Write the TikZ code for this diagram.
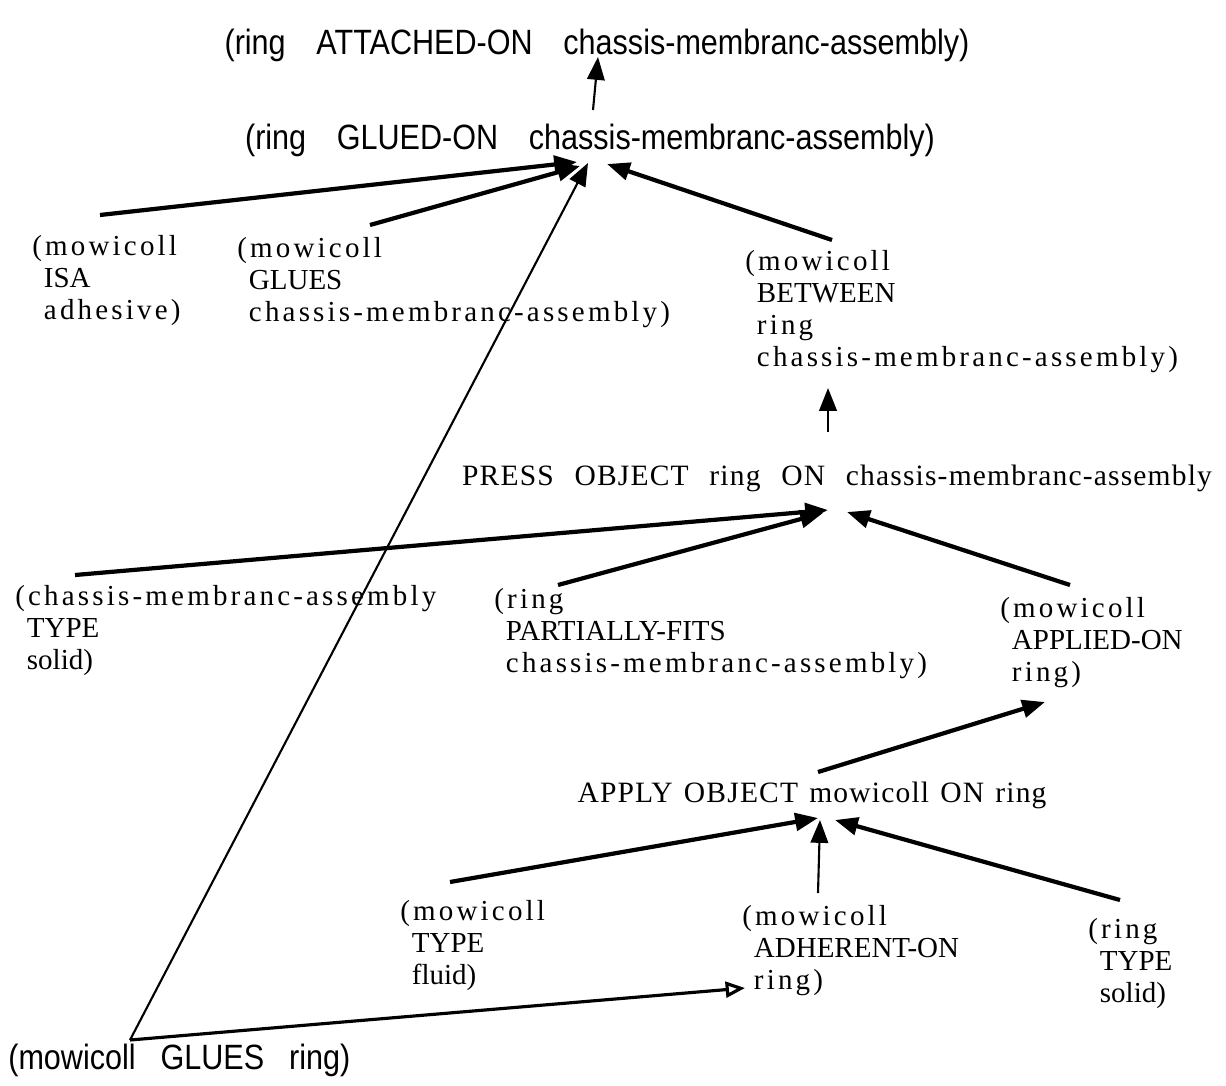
\documentclass[tikz,border=0pt]{standalone}
\usepackage{fontspec}
\setmainfont{Liberation Serif}
\newfontfamily\narrowsans{Liberation Sans}[FakeStretch=0.87]
\usetikzlibrary{arrows.meta}
\newcommand{\spaced}[1]{{\addfontfeature{LetterSpace=11}#1}}
\newcommand{\nl}{\\\hspace*{0.4em}}

\begin{document}
\begin{tikzpicture}[x=0.02cm,y=-0.02cm,
    head/.style={inner sep=0pt,font=\narrowsans\fontsize{20}{24}\selectfont},
    lbl/.style={inner sep=0pt,font=\fontsize{16.8}{20}\selectfont\addfontfeature{LetterSpace=4}},
    stack/.style={inner sep=0pt,align=left,anchor=north west,font=\fontsize{16.5}{18.2}\selectfont},
    link/.style={-{Triangle[length=13pt,width=10pt]},line width=2.4pt},
    slimlink/.style={-{Triangle[length=13pt,width=10pt]},line width=1.2pt}]
    \useasboundingbox (0,0) rectangle (1226,1085);
    \node[head] (attached) at (597,45) {\makebox[14.9cm][s]{(ring ATTACHED-ON chassis-membranc-assembly)}};
    \node[head] (glued) at (590,140) {\makebox[13.8cm][s]{(ring GLUED-ON chassis-membranc-assembly)}};
    \node[stack] (isa) at (32,235) {\spaced{(mowicoll}\nl ISA\nl\spaced{adhesive)}};
    \node[stack] (gluesn) at (237,237) {\spaced{(mowicoll}\nl GLUES\nl\spaced{chassis-membranc-assembly)}};
    \node[stack] (between) at (745,250) {\spaced{(mowicoll}\nl BETWEEN\nl\spaced{ring}\nl\spaced{chassis-membranc-assembly)}};
    \node[lbl] (press) at (837,478) {\makebox[15cm][s]{PRESS OBJECT ring ON chassis-membranc-assembly}};
    \node[stack] (cma) at (15,585) {\spaced{(chassis-membranc-assembly}\nl TYPE\nl solid)};
    \node[stack] (pfits) at (494,588) {\spaced{(ring}\nl PARTIALLY-FITS\nl\spaced{chassis-membranc-assembly)}};
    \node[stack] (appliedon) at (1000,597) {\spaced{(mowicoll}\nl APPLIED-ON\nl\spaced{ring)}};
    \node[lbl] (apply) at (812,795) {\makebox[9.38cm][s]{APPLY OBJECT mowicoll ON ring}};
    \node[stack] (fluid) at (400,900) {\spaced{(mowicoll}\nl TYPE\nl fluid)};
    \node[stack] (adherent) at (742,905) {\spaced{(mowicoll}\nl ADHERENT-ON\nl\spaced{ring)}};
    \node[stack] (ringtype) at (1088,918) {\spaced{(ring}\nl TYPE\nl solid)};
    \node[head,anchor=west] (glring) at (8,1060) {\makebox[6.84cm][s]{(mowicoll GLUES ring)}};
    \coordinate (knee) at ([shift={(122,-20)}]glring.west);
    \draw[slimlink] ([shift={(3,-30)}]glued.center) -- ([shift={(1,12)}]attached.center);
    \draw[link] ([shift={(68,-20)}]isa.north west) -- ([shift={(-13,22)}]glued.center);
    \draw[link] ([shift={(133,-12)}]gluesn.north west) -- ([shift={(-10,26)}]glued.center);
    \draw[link] ([shift={(87,-10)}]between.north west) -- ([shift={(17,24)}]glued.center);
    \draw[slimlink] ([shift={(-9,-46)}]press.center) -- ([shift={(83,138)}]between.north west);
    \draw[link] ([shift={(60,-10)}]cma.north west) -- ([shift={(-9,32)}]press.center);
    \draw[link] ([shift={(64,-3)}]pfits.north west) -- ([shift={(-14,35)}]press.center);
    \draw[link] ([shift={(70,-12)}]appliedon.north west) -- ([shift={(10,34)}]press.center);
    \draw[link] ([shift={(6,-23)}]apply.center) -- ([shift={(45,105)}]appliedon.north west);
    \draw[link] ([shift={(50,-18)}]fluid.north west) -- ([shift={(6,23)}]apply.center);
    \draw[slimlink] ([shift={(76,-12)}]adherent.north west) -- ([shift={(8,25)}]apply.center);
    \draw[link] ([shift={(32,-18)}]ringtype.north west) -- ([shift={(23,25)}]apply.center);
    \draw[slimlink] (knee) -- ([shift={(-2,23)}]glued.center);
    \draw[line width=1.8pt,-{Triangle[open,length=11pt,width=9pt]}] (knee) -- ([shift={(3,83)}]adherent.north west);
\end{tikzpicture}
\end{document}
